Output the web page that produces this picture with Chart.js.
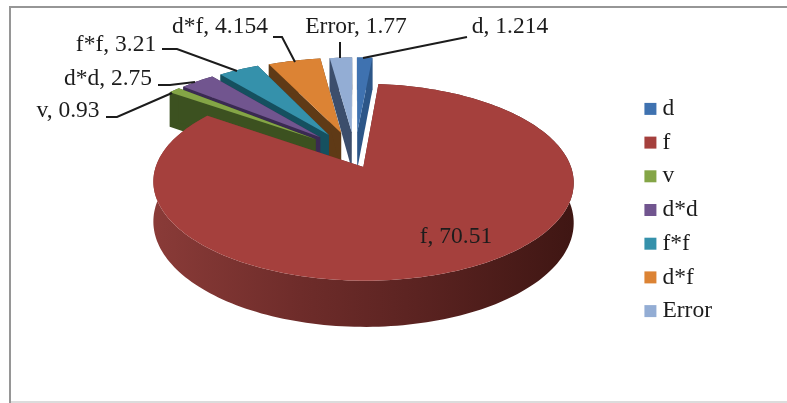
<!DOCTYPE html>
<html>
<head>
<meta charset="utf-8">
<title>Pie</title>
<script src="https://cdn.jsdelivr.net/npm/chart.js@4"></script>
<style>
html, body { margin: 0; padding: 0; background: #fff; }
#wrap { position: absolute; left: 0; top: 0; width: 787px; height: 403px; }
</style>
</head>
<body>
<div id="wrap"><canvas id="pieChart" width="787" height="403"></canvas></div>
<script>
var categories = ["d", "f", "v", "d*d", "f*f", "d*f", "Error"];
var shares = [1.214, 70.51, 0.93, 2.75, 3.21, 4.154, 1.77];

var topColors = ["#3f72b0", "#a5403d", "#84a546", "#71558f", "#3591ab", "#dc8334", "#93add4"];
var wallColors = ["#2c5688", "#6b2b28", "#3c5120", "#3a2a52", "#15505f", "#5f3a16", "#3c4e6c"];

// back to front, the big slice goes last so it covers the others' walls
var paintOrder = [0, 6, 5, 4, 3, 2, 1];

// tilted plane: hub on screen, radii, perspective strength, pie thickness
var HUB_X = 355, HUB_Y = 150, RAD_X = 202, RAD_Y = 91, PERSP = 0.15, THICK = 38;
var EXPLODE = 0.2;

// label box centre and leader polyline for each slice
var labelSpots = [
    { x: 510, y: 27, line: [[467, 37], [363, 58]] },
    { x: 456, y: 237, line: null },
    { x: 68, y: 111, line: [[106, 117], [117, 117], [172, 93]] },
    { x: 108, y: 79, line: [[158, 85], [170, 85], [195, 82]] },
    { x: 116, y: 45, line: [[162, 49], [177, 49], [237, 71]] },
    { x: 220, y: 27, line: [[273, 37], [282, 37], [295, 62]] },
    { x: 356, y: 27, line: [[340, 42], [340, 58]] }
];

function project(u, v) {
    var w = 1 / (1 - PERSP * v);
    return { x: HUB_X + RAD_X * u * w, y: HUB_Y + RAD_Y * v * w, drop: THICK * w };
}

// outline of one exploded slice, sampled along its arc; hub comes first
function sliceOutline(arc) {
    var mid = (arc.startAngle + arc.endAngle) / 2;
    var big = arc.endAngle - arc.startAngle > Math.PI;
    var hubU = EXPLODE * Math.cos(mid) * (big ? 0.48 : 1.25);
    var hubV = EXPLODE * Math.sin(mid);
    var pts = [project(hubU, hubV)];
    var steps = Math.max(4, Math.ceil((arc.endAngle - arc.startAngle) * 40));
    for (var i = 0; i <= steps; i++) {
        var a = arc.startAngle + (arc.endAngle - arc.startAngle) * i / steps;
        pts.push(project(hubU + Math.cos(a), hubV + Math.sin(a)));
    }
    return pts;
}

function polygon(ctx, pts) {
    ctx.beginPath();
    pts.forEach(function(p, i) {
        if (i == 0) ctx.moveTo(p.x, p.y);
        else ctx.lineTo(p.x, p.y);
    });
    ctx.closePath();
    ctx.fill();
}

function lowered(p) {
    return { x: p.x, y: p.y + p.drop };
}

var pie3d = {
    id: "pie3d",
    beforeDraw: function(chart) {
        var ctx = chart.ctx;
        ctx.save();
        ctx.fillStyle = "#fff";
        ctx.fillRect(0, 0, chart.width, chart.height);
        ctx.strokeStyle = "#969696";
        ctx.lineWidth = 2;
        ctx.beginPath();
        ctx.moveTo(chart.width, 7);
        ctx.lineTo(10, 7);
        ctx.lineTo(10, chart.height);
        ctx.stroke();
        ctx.strokeStyle = "#dcdcdc";
        ctx.beginPath();
        ctx.moveTo(11, 402);
        ctx.lineTo(chart.width, 402);
        ctx.stroke();
        ctx.restore();
    },
    beforeDatasetDraw: function(chart, args) {
        var ctx = chart.ctx;
        var arcs = args.meta.data;
        ctx.save();
        paintOrder.forEach(function(idx) {
            var pts = sliceOutline(arcs[idx]);
            var wall = wallColors[idx];
            if (idx == 1) {
                wall = ctx.createLinearGradient(153, 0, 574, 0);
                wall.addColorStop(0, "#8a3b38");
                wall.addColorStop(0.35, "#6e2c2a");
                wall.addColorStop(0.6, "#5d2422");
                wall.addColorStop(1, "#3f1613");
            }
            ctx.fillStyle = wall;
            // both cut faces, then the rim as a single band
            var hub = pts[0], first = pts[1], last = pts[pts.length - 1];
            polygon(ctx, [hub, first, lowered(first), lowered(hub)]);
            polygon(ctx, [hub, last, lowered(last), lowered(hub)]);
            var rim = pts.slice(1);
            polygon(ctx, rim.concat(rim.slice().reverse().map(lowered)));
            ctx.fillStyle = topColors[idx];
            polygon(ctx, pts);
        });
        ctx.restore();
        return false;
    },
    afterDatasetsDraw: function(chart) {
        var ctx = chart.ctx;
        ctx.save();
        ctx.font = "23.5px 'Liberation Serif'";
        ctx.fillStyle = "#1c1c1c";
        ctx.textAlign = "center";
        ctx.textBaseline = "middle";
        ctx.strokeStyle = "#1c1c1c";
        ctx.lineWidth = 2;
        labelSpots.forEach(function(spot, i) {
            ctx.fillText(categories[i] + ", " + shares[i], spot.x, spot.y);
            if (!spot.line) return;
            ctx.beginPath();
            spot.line.forEach(function(p, j) {
                if (j == 0) ctx.moveTo(p[0], p[1]);
                else ctx.lineTo(p[0], p[1]);
            });
            ctx.stroke();
        });
        ctx.restore();
    }
};

new Chart(document.getElementById("pieChart"), {
    type: "pie",
    data: {
        labels: categories,
        datasets: [{ data: shares, backgroundColor: topColors, borderWidth: 0 }]
    },
    options: {
        responsive: false,
        animation: false,
        layout: { padding: { top: 17, right: 65 } },
        plugins: {
            tooltip: { enabled: false },
            legend: {
                position: "right",
                labels: {
                    usePointStyle: true,
                    pointStyle: "rect",
                    boxWidth: 0.5,
                    boxHeight: 12,
                    padding: 10.2,
                    color: "#1c1c1c",
                    font: { family: "Liberation Serif", size: 23.5 }
                }
            }
        }
    },
    plugins: [pie3d]
});
</script>
</body>
</html>
